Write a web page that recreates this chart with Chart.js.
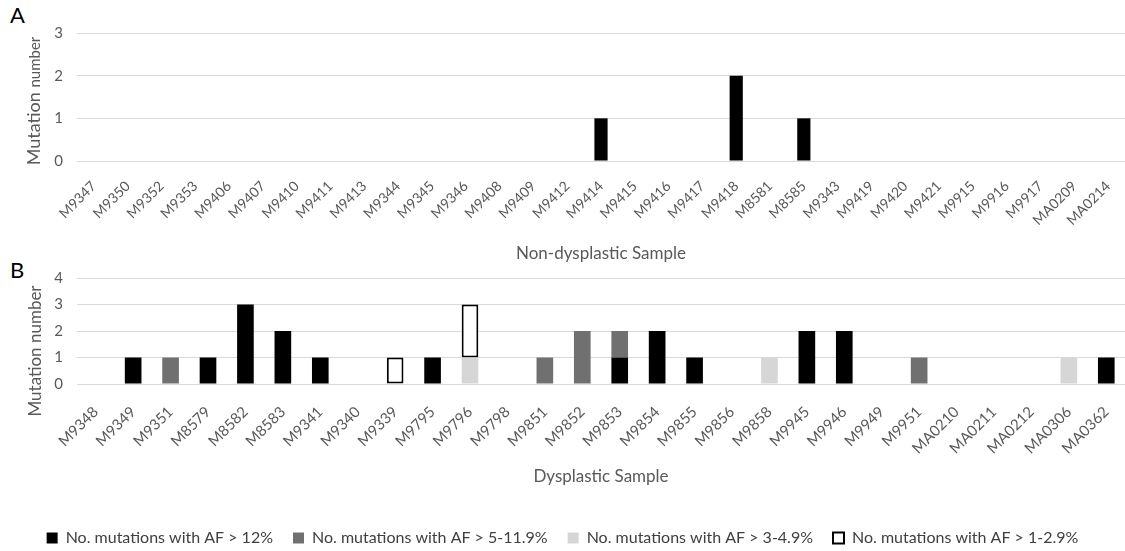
<!DOCTYPE html>
<html>
<head>
<meta charset="utf-8">
<script src="https://cdn.jsdelivr.net/npm/chart.js@4.4.1/dist/chart.umd.min.js"></script>
<style>
    html, body { margin: 0; padding: 0; background: #fff; overflow: hidden; }
    body { width: 1125px; height: 551px; position: relative; font-family: Lato, sans-serif; }
    .panel-letter { position: absolute; left: 10px; font-size: 22px; line-height: 1; color: #000; }
    #wrapA { position: absolute; left: 0; top: 0; width: 1125px; height: 268px; }
    #wrapB { position: absolute; left: 0; top: 262px; width: 1125px; height: 294px; }
</style>
</head>
<body>
<div class="panel-letter" style="top:4px;">A</div>
<div class="panel-letter" style="top:259px;">B</div>
<div id="wrapA"><canvas id="chartA"></canvas></div>
<div id="wrapB"><canvas id="chartB"></canvas></div>

<script>
// Panel A: non-dysplastic samples
var samplesA = ['M9347', 'M9350', 'M9352', 'M9353', 'M9406', 'M9407', 'M9410', 'M9411', 'M9413', 'M9344',
    'M9345', 'M9346', 'M9408', 'M9409', 'M9412', 'M9414', 'M9415', 'M9416', 'M9417', 'M9418',
    'M8581', 'M8585', 'M9343', 'M9419', 'M9420', 'M9421', 'M9915', 'M9916', 'M9917', 'MA0209', 'MA0214'];
var countsA = [0, 0, 0, 0, 0, 0, 0, 0, 0, 0,
    0, 0, 0, 0, 0, 1, 0, 0, 0, 2,
    0, 1, 0, 0, 0, 0, 0, 0, 0, 0, 0];

// Panel B: dysplastic samples, split by allele frequency
var samplesB = ['M9348', 'M9349', 'M9351', 'M8579', 'M8582', 'M8583', 'M9341', 'M9340', 'M9339', 'M9795',
    'M9796', 'M9798', 'M9851', 'M9852', 'M9853', 'M9854', 'M9855', 'M9856', 'M9858', 'M9945',
    'M9946', 'M9949', 'M9951', 'MA0210', 'MA0211', 'MA0212', 'MA0306', 'MA0362'];
var afOver12 = [0, 1, 0, 1, 3, 2, 1, 0, 0, 1, 0, 0, 0, 0, 1, 2, 1, 0, 0, 2, 2, 0, 0, 0, 0, 0, 0, 1];
var af5to12  = [0, 0, 1, 0, 0, 0, 0, 0, 0, 0, 0, 0, 1, 2, 1, 0, 0, 0, 0, 0, 0, 0, 1, 0, 0, 0, 0, 0];
var af3to5   = [0, 0, 0, 0, 0, 0, 0, 0, 0, 0, 1, 0, 0, 0, 0, 0, 0, 0, 1, 0, 0, 0, 0, 0, 0, 0, 1, 0];
var af1to3   = [0, 0, 0, 0, 0, 0, 0, 0, 1, 0, 2, 0, 0, 0, 0, 0, 0, 0, 0, 0, 0, 0, 0, 0, 0, 0, 0, 0];

var seriesNames = ['No. mutations with AF > 12%', 'No. mutations with AF > 5-11.9%',
    'No. mutations with AF > 3-4.9%', 'No. mutations with AF > 1-2.9%'];

var FONT = 'Lato, sans-serif';
var TXT = '#595959';
var CLEAR = 'rgba(0,0,0,0)';

// rotated y title drawn in pieces so each piece can have its own size
function yTitle(cx, cy, parts) {
    return {
        id: 'yTitle',
        afterDraw: function (chart) {
            var ctx = chart.ctx;
            ctx.save();
            ctx.translate(cx, cy);
            ctx.rotate(-Math.PI / 2);
            ctx.fillStyle = TXT;
            ctx.textBaseline = 'alphabetic';
            var widths = parts.map(function (p) {
                ctx.font = p.size + 'px ' + FONT;
                return ctx.measureText(p.text).width;
            });
            var total = widths.reduce(function (a, b) { return a + b; }, 0);
            var x = -total / 2;
            parts.forEach(function (p, i) {
                ctx.font = p.size + 'px ' + FONT;
                ctx.fillText(p.text, x, 0);
                x += widths[i];
            });
            ctx.restore();
        }
    };
}

// tick labels are pushed down with invisible tick marks, not tick padding,
// so the plot keeps its full width on the right
function xAxis(title, height, tickSize, tickGap, titlePadBottom) {
    return {
        stacked: true,
        grid: { drawOnChartArea: false, drawTicks: true, tickLength: tickGap, tickColor: CLEAR },
        border: { display: false },
        ticks: {
            color: TXT,
            font: { size: tickSize, family: FONT },
            minRotation: 45,
            maxRotation: 45,
            autoSkip: false,
            padding: 0
        },
        title: {
            display: true,
            text: title,
            color: TXT,
            font: { size: 17, family: FONT },
            padding: { top: 0, bottom: titlePadBottom }
        },
        afterFit: function (scale) { scale.height = height; }
    };
}

function yAxis(max) {
    return {
        stacked: true,
        min: 0,
        max: max,
        grid: { color: '#d9d9d9', lineWidth: 1, drawTicks: true, tickLength: 11, tickColor: CLEAR },
        border: { display: false },
        ticks: {
            stepSize: 1,
            color: TXT,
            font: { size: 15, family: FONT },
            padding: 3
        },
        afterFit: function (scale) { scale.width = 77; }
    };
}

(function () {
    var ctx = document.getElementById('chartA').getContext('2d');
    new Chart(ctx, {
        type: 'bar',
        data: {
            labels: samplesA,
            datasets: [{
                data: countsA,
                backgroundColor: '#000000',
                borderWidth: 0,
                barPercentage: 0.39,
                categoryPercentage: 1
            }]
        },
        options: {
            responsive: true,
            maintainAspectRatio: false,
            animation: false,
            layout: { padding: { top: 33, left: 0, right: 0, bottom: 0 } },
            plugins: { legend: { display: false }, tooltip: { enabled: false } },
            scales: {
                x: xAxis('Non-dysplastic Sample', 107, 14, 17, 4),
                y: yAxis(3)
            }
        },
        plugins: [yTitle(40, 101, [{ text: 'Mutation ', size: 18 }, { text: 'number', size: 15 }])]
    });
})();

(function () {
    var ctx = document.getElementById('chartB').getContext('2d');
    var fills = ['#000000', '#707070', '#d6d6d6', '#ffffff'];
    var values = [afOver12, af5to12, af3to5, af1to3];
    var datasets = values.map(function (v, i) {
        return {
            label: seriesNames[i],
            data: v,
            backgroundColor: fills[i],
            borderColor: i === 3 ? '#000000' : fills[i],
            borderWidth: i === 3 ? 2 : 0,
            borderSkipped: false,
            barPercentage: 0.445,
            categoryPercentage: 1
        };
    });

    new Chart(ctx, {
        type: 'bar',
        data: { labels: samplesB, datasets: datasets },
        options: {
            responsive: true,
            maintainAspectRatio: false,
            animation: false,
            layout: { padding: { top: 16, left: 0, right: 0, bottom: 0 } },
            plugins: {
                tooltip: { enabled: false },
                legend: {
                    position: 'bottom',
                    labels: {
                        color: '#404040',
                        font: { size: 16, family: FONT },
                        boxWidth: 11,
                        boxHeight: 11,
                        padding: 20
                    }
                }
            },
            scales: {
                x: xAxis('Dysplastic Sample', 126, 15, 19, 23),
                y: yAxis(4)
            }
        },
        plugins: [yTitle(41, 89, [{ text: 'Mutation number', size: 17 }])]
    });
})();
</script>
</body>
</html>
